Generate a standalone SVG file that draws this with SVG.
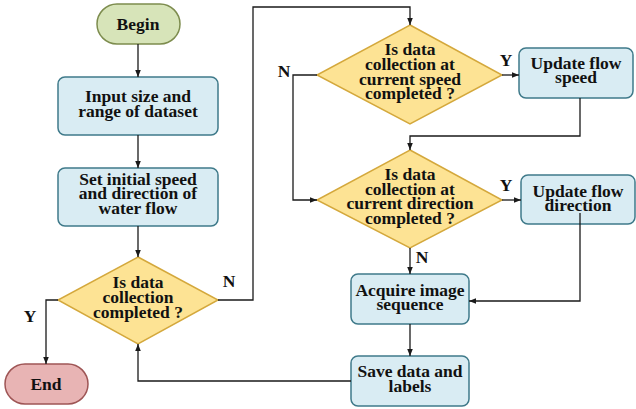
<svg xmlns="http://www.w3.org/2000/svg" width="636" height="409" viewBox="0 0 636 409">
  <defs>
    <marker id="arrow" viewBox="0 0 10 10" refX="10" refY="5" markerWidth="7" markerHeight="7" markerUnits="userSpaceOnUse" orient="auto">
      <path d="M0,1 L10,5 L0,9 z" fill="#1a1a1a"/>
    </marker>
  </defs>
  <style>
    text { font-family: 'Liberation Serif', 'Times New Roman', serif; font-weight: bold; font-size: 17.5px; fill: #111; text-anchor: middle; }
    .box { fill: #d9ecf3; stroke: #3f7a8a; stroke-width: 1.5; }
    .dia { fill: #fde394; stroke: #d4a83c; stroke-width: 1.5; }
    .begin { fill: #d7e4b9; stroke: #7d8c4e; stroke-width: 1.5; }
    .end { fill: #e8b4b4; stroke: #9e5555; stroke-width: 1.5; }
    .conn { fill: none; stroke: #1a1a1a; stroke-width: 1.3; }
  </style>

  <g id="begin">
    <rect class="begin" x="97" y="4" width="83" height="40" rx="20"/>
    <text x="138" y="30">Begin</text>
  </g>

  <g id="input">
    <rect class="box" x="58" y="77" width="160" height="58" rx="7"/>
    <text x="138" y="102">Input size and</text>
    <text x="138" y="117">range of dataset</text>
  </g>

  <g id="init">
    <rect class="box" x="58" y="168" width="160" height="58" rx="7"/>
    <text x="138" y="185">Set initial speed</text>
    <text x="138" y="199">and direction of</text>
    <text x="138" y="214">water flow</text>
  </g>

  <g id="done">
    <polygon class="dia" points="138,257 218,300 138,344 58,300"/>
    <text x="138" y="288">Is data</text>
    <text x="138" y="303">collection</text>
    <text x="138" y="318">completed ?</text>
  </g>

  <g id="end">
    <rect class="end" x="5" y="364" width="83" height="40" rx="20"/>
    <text x="46" y="390">End</text>
  </g>

  <g id="speed-check">
    <polygon class="dia" points="410,25 502,75 410,124 317,75"/>
    <text x="410" y="55">Is data</text>
    <text x="410" y="70">collection at</text>
    <text x="410" y="85">current speed</text>
    <text x="410" y="99">completed ?</text>
  </g>

  <g id="update-speed">
    <rect class="box" x="519" y="48" width="114" height="50" rx="7"/>
    <text x="576" y="69">Update flow</text>
    <text x="576" y="83">speed</text>
  </g>

  <g id="direction-check">
    <polygon class="dia" points="410,150 502,200 410,248 317,200"/>
    <text x="410" y="180">Is data</text>
    <text x="410" y="195">collection at</text>
    <text x="410" y="209">current direction</text>
    <text x="410" y="224">completed ?</text>
  </g>

  <g id="update-direction">
    <rect class="box" x="521" y="175" width="114" height="49" rx="7"/>
    <text x="578" y="197">Update flow</text>
    <text x="578" y="211">direction</text>
  </g>

  <g id="acquire">
    <rect class="box" x="351" y="274" width="118" height="50" rx="7"/>
    <text x="410" y="296">Acquire image</text>
    <text x="410" y="310">sequence</text>
  </g>

  <g id="save">
    <rect class="box" x="351" y="356" width="118" height="50" rx="7"/>
    <text x="410" y="377">Save data and</text>
    <text x="410" y="392">labels</text>
  </g>

  <!-- connectors and their Y/N labels, drawn over the nodes -->
  <g id="connectors">
    <path class="conn" d="M138,44 V77" marker-end="url(#arrow)"/>
    <path class="conn" d="M138,135 V168" marker-end="url(#arrow)"/>
    <path class="conn" d="M138,226 V257" marker-end="url(#arrow)"/>
    <path class="conn" d="M58,300 H46 V364" marker-end="url(#arrow)"/>
    <path class="conn" d="M218,300 H253 V7 H410 V25" marker-end="url(#arrow)"/>
    <path class="conn" d="M502,75 H519" marker-end="url(#arrow)"/>
    <path class="conn" d="M317,75 H293 V200 H317" marker-end="url(#arrow)"/>
    <path class="conn" d="M580,98 V136 H410 V150" marker-end="url(#arrow)"/>
    <path class="conn" d="M502,200 H521" marker-end="url(#arrow)"/>
    <path class="conn" d="M580,213 V301 H469" marker-end="url(#arrow)"/>
    <path class="conn" d="M410,248 V274" marker-end="url(#arrow)"/>
    <path class="conn" d="M410,324 V356" marker-end="url(#arrow)"/>
    <path class="conn" d="M351,381 H138 V344" marker-end="url(#arrow)"/>
    <text x="30" y="322">Y</text>
    <text x="229" y="287">N</text>
    <text x="284" y="77">N</text>
    <text x="506" y="66">Y</text>
    <text x="506" y="191">Y</text>
    <text x="422" y="263">N</text>
  </g>
</svg>
